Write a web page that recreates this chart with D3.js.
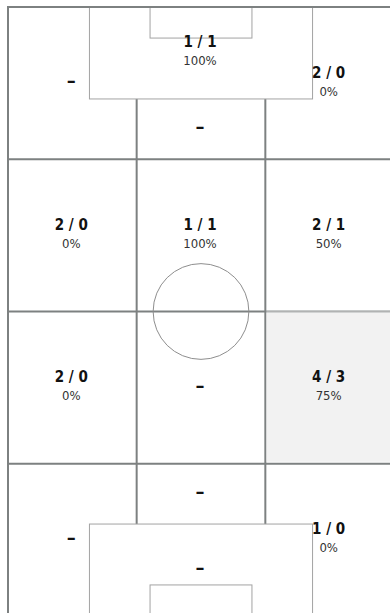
<!DOCTYPE html>
<html>
<head>
<meta charset="utf-8">
<script src="https://cdn.jsdelivr.net/npm/d3@7"></script>
<style>
  html, body { margin: 0; padding: 0; background: #fff; }
  svg { display: block; }
  .bold { font-family: "DejaVu Sans Condensed", "DejaVu Sans", sans-serif; font-stretch: condensed; font-weight: bold; }
  .reg { font-family: "DejaVu Sans Condensed", "DejaVu Sans", sans-serif; font-stretch: condensed; }
</style>
</head>
<body>
<svg id="chart" width="390" height="613"></svg>
<script>
// Zones of the pitch, listed top to bottom (row 0 = attacking end).
// Column keys: left / centre / right, plus "box" for the penalty area.
const zoneRow   = [0, 0, 0, 0,   1, 1, 1,   2, 2, 2,   3, 3, 3, 3];
const zoneCol   = ["left", "box", "centre", "right",
                   "left", "centre", "right",
                   "left", "centre", "right",
                   "left", "centre", "box", "right"];
// Attempts / successful per zone
const attempts  = [0, 1, 0, 2,   2, 1, 2,   2, 0, 4,   0, 0, 0, 1];
const successes = [0, 1, 0, 0,   0, 1, 1,   0, 0, 3,   0, 0, 0, 0];

const ROWS = 4, COLS = 3;
const colIndex = { left: 0, centre: 1, right: 2 };

// Pitch markings in percent of pitch width / length
const BOX_X0 = 21.1, BOX_X1 = 78.9, BOX_DEPTH = 15.1;
const GOAL_X0 = 36.8, GOAL_X1 = 63.2, GOAL_DEPTH = 5.1;
const CIRCLE_R = 12.4;

const svg = d3.select("#chart");
const x = d3.scaleLinear().domain([0, 100]).range([8, 394]);
const y = d3.scaleLinear().domain([0, 100]).range([7, 616]);

const THICK = "#7d8181";
const THIN = "#a3a3a3";

const rowBand = d3.range(ROWS + 1).map(i => i * 100 / ROWS);
const colBand = d3.range(COLS + 1).map(i => i * 100 / COLS);

// geometry of each zone, in pitch percent
const zones = zoneRow.map((r, i) => {
  const col = zoneCol[i];
  let x0, x1, y0 = rowBand[r], y1 = rowBand[r + 1];
  if (col === "box") {
    x0 = BOX_X0; x1 = BOX_X1;
    if (r === 0) { y0 = 0; y1 = BOX_DEPTH; } else { y0 = 100 - BOX_DEPTH; y1 = 100; }
  } else {
    const c = colIndex[col];
    x0 = colBand[c]; x1 = colBand[c + 1];
    if (col === "centre" && r === 0) y0 = BOX_DEPTH;
    if (col === "centre" && r === ROWS - 1) y1 = 100 - BOX_DEPTH;
  }
  return { x0, x1, y0, y1, a: attempts[i], s: successes[i], col, r };
});

const maxAttempts = d3.max(attempts);

// pitch background
svg.append("rect")
  .attr("x", x(0)).attr("y", y(0))
  .attr("width", x(100) - x(0)).attr("height", y(100) - y(0))
  .attr("fill", "#fff");

// zone grid
const grid = svg.append("g").attr("stroke", THICK).attr("stroke-width", 2);
rowBand.forEach(v => grid.append("line")
  .attr("x1", x(0)).attr("x2", x(100)).attr("y1", y(v)).attr("y2", y(v)));
colBand.forEach(v => grid.append("line")
  .attr("x1", x(v)).attr("x2", x(v)).attr("y1", y(0)).attr("y2", y(100)));

// penalty areas and goal areas
const markings = svg.append("g").attr("stroke", THIN).attr("stroke-width", 1);
[[0, BOX_DEPTH], [100 - BOX_DEPTH, 100]].forEach(([a, b]) => {
  markings.append("rect")
    .attr("x", x(BOX_X0)).attr("y", y(a))
    .attr("width", x(BOX_X1) - x(BOX_X0)).attr("height", y(b) - y(a))
    .attr("fill", "#fff");
});
[[0, GOAL_DEPTH], [100 - GOAL_DEPTH, 100]].forEach(([a, b]) => {
  markings.append("rect")
    .attr("x", x(GOAL_X0)).attr("y", y(a))
    .attr("width", x(GOAL_X1) - x(GOAL_X0)).attr("height", y(b) - y(a))
    .attr("fill", "none");
});
markings.append("circle")
  .attr("cx", x(50)).attr("cy", y(50))
  .attr("r", x(50 + CIRCLE_R) - x(50))
  .attr("fill", "none").attr("stroke", "#8e8e8e");

// outer border
svg.append("rect")
  .attr("x", x(0)).attr("y", y(0))
  .attr("width", x(100) - x(0)).attr("height", y(100) - y(0))
  .attr("fill", "none").attr("stroke", THICK).attr("stroke-width", 2);

// highlight the busiest zone
zones.filter(z => z.a === maxAttempts).forEach(z => {
  svg.append("rect")
    .attr("x", x(z.x0) + 1).attr("y", y(z.y0) - 1)
    .attr("width", x(z.x1) - x(z.x0) - 1).attr("height", y(z.y1) - y(z.y0) - 1)
    .attr("fill", "#e5e5e5").attr("opacity", 0.5);
});

// labels
const labels = svg.append("g").attr("text-anchor", "middle");
zones.forEach(z => {
  const cx = (x(z.x0) + x(z.x1)) / 2 - 1;
  const cy = (y(z.y0) + y(z.y1)) / 2;
  if (z.a === 0) {
    labels.append("text")
      .attr("x", cx).attr("y", cy + 4)
      .attr("font-family", "DejaVu Sans, sans-serif")
      .attr("font-weight", "bold")
      .attr("font-size", 18).attr("fill", "#111")
      .text("–");
  } else {
    labels.append("text").attr("class", "bold")
      .attr("x", cx).attr("y", cy - 5.5)
      .attr("font-size", 15).attr("fill", "#111")
      .text(`${z.a} / ${z.s}`);
    labels.append("text").attr("class", "reg")
      .attr("x", cx).attr("y", cy + 12.5)
      .attr("font-size", 13).attr("fill", "#333")
      .text(`${Math.round(z.s / z.a * 100)}%`);
  }
});
</script>
</body>
</html>
